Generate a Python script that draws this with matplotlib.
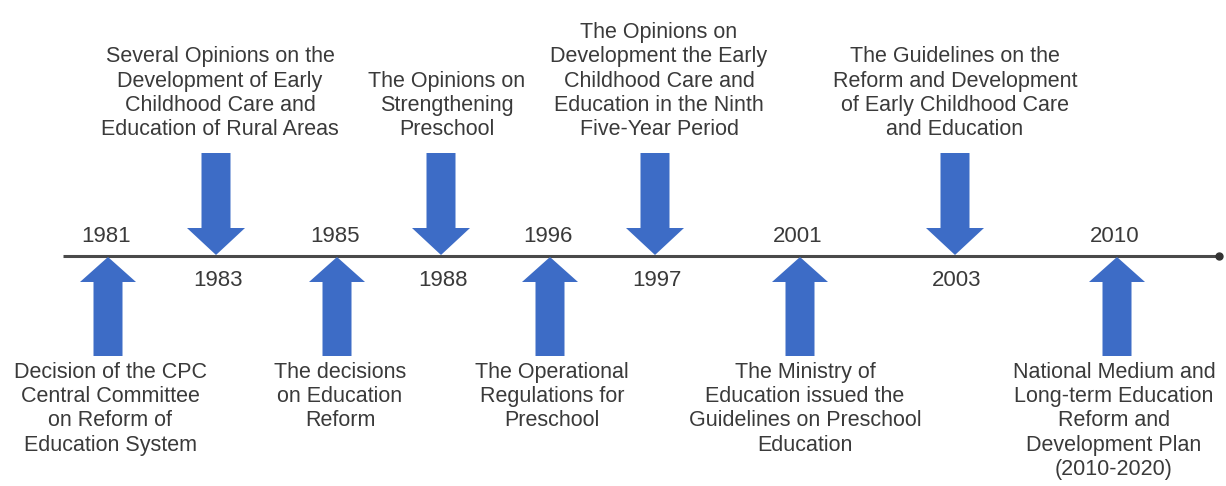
import matplotlib
matplotlib.use("Agg")
import matplotlib.pyplot as plt
from matplotlib.patches import FancyArrow

# ---------------- data ----------------
years = [1981, 1983, 1985, 1988, 1996, 1997, 2001, 2003, 2010]
events = [
    "Decision of the CPC\nCentral Committee\non Reform of\nEducation System",
    "Several Opinions on the\nDevelopment of Early\nChildhood Care and\nEducation of Rural Areas",
    "The decisions\non Education\nReform",
    "The Opinions on\nStrengthening\nPreschool",
    "The Operational\nRegulations for\nPreschool",
    "The Opinions on\nDevelopment the Early\nChildhood Care and\nEducation in the Ninth\nFive-Year Period",
    "The Ministry of\nEducation issued the\nGuidelines on Preschool\nEducation",
    "The Guidelines on the\nReform and Development\nof Early Childhood Care\nand Education",
    "National Medium and\nLong-term Education\nReform and\nDevelopment Plan\n(2010-2020)",
]
# where the description sits relative to the timeline
sides = ["below", "above", "below", "above", "below", "above", "below", "above", "below"]

# ---------------- layout (pixel-like units) ----------------
W, H = 1226, 486
event_x = [108, 216, 337, 441, 550, 655, 800, 955, 1117]
text_dx = [2, 4, 3, 6, 2, 4, 5, 0, -3]
line_y = 256
arrow_color = "#3d6cc6"
text_color = "#3a3a3a"
font = ["Liberation Sans", "DejaVu Sans"]

fig = plt.figure(figsize=(W / 100, H / 100), dpi=100)
ax = fig.add_axes([0, 0, 1, 1])
ax.set_xlim(0, W)
ax.set_ylim(H, 0)
ax.axis("off")

# timeline
ax.plot([63, 1219], [line_y, line_y], color="#4a4a4a", lw=2.2, solid_capstyle="butt", zorder=2)
ax.plot([1219], [line_y], marker="o", ms=5, color="#333333", zorder=3)

for yr, txt, side, x, dx in zip(years, events, sides, event_x, text_dx):
    if side == "below":
        # up arrow from below pointing to the line
        ar = FancyArrow(x, 356, 0, -(356 - 257), width=29, head_width=56,
                        head_length=25, length_includes_head=True,
                        color=arrow_color, lw=0, zorder=4)
        ax.add_patch(ar)
        ax.text(x - 2, 236, str(yr), ha="center", va="center", fontsize=16,
                color=text_color, family=font)
        ax.text(x + dx, 362, txt, ha="center", va="top", fontsize=15.5,
                color=text_color, family=font, linespacing=1.2)
    else:
        ar = FancyArrow(x, 153, 0, 255 - 153, width=29, head_width=58,
                        head_length=27, length_includes_head=True,
                        color=arrow_color, lw=0, zorder=4)
        ax.add_patch(ar)
        ax.text(x + 2, 280, str(yr), ha="center", va="center", fontsize=16,
                color=text_color, family=font)
        ax.text(x + dx, 140, txt, ha="center", va="bottom", fontsize=15.5,
                color=text_color, family=font, linespacing=1.2)

fig.savefig("out.png", dpi=100, facecolor="white")
